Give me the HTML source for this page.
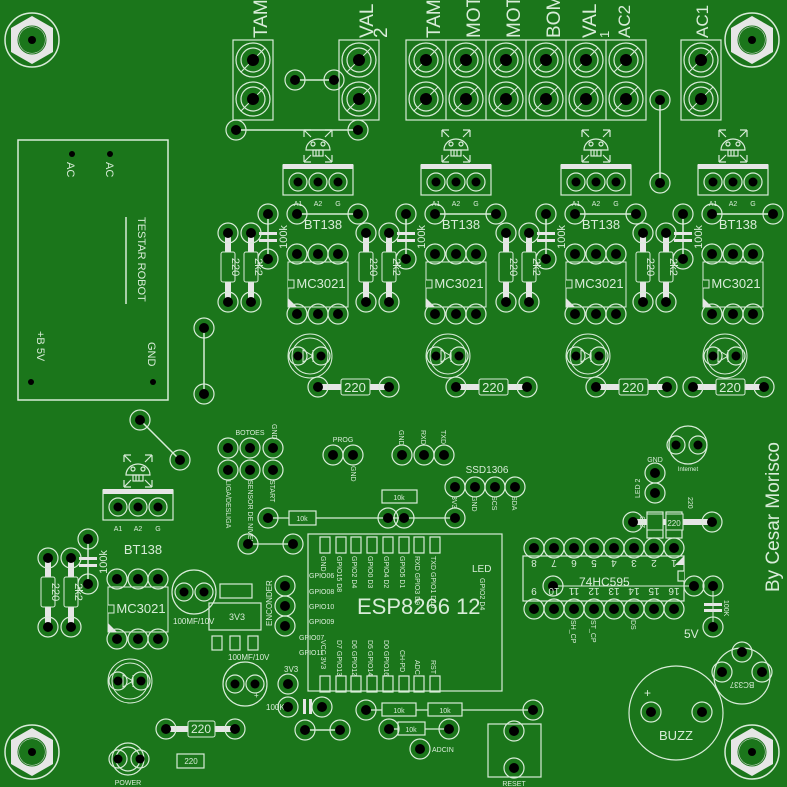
<!DOCTYPE html>
<html><head><meta charset="utf-8"><style>
html,body{margin:0;padding:0;background:#1b761b;}
svg{display:block;font-family:"Liberation Sans",sans-serif;}
</style></head><body>
<svg width="787" height="787" viewBox="0 0 787 787" xmlns="http://www.w3.org/2000/svg">
<rect width="787" height="787" fill="#1b761b"/>
<defs>
<g id="p"><circle r="10" fill="none" stroke="#d8ecd8" stroke-width="1.2"/><circle r="5" fill="#000"/></g>
<g id="ps"><circle r="9" fill="none" stroke="#d8ecd8" stroke-width="1.2"/><circle r="4.5" fill="#000"/></g>
<g id="t"><circle r="17" fill="none" stroke="#d8ecd8" stroke-width="1.2"/><circle r="12" fill="none" stroke="#d8ecd8" stroke-width="1.2"/><line x1="-12" y1="12" x2="12" y2="-12" stroke="#d8ecd8"/><circle r="6" fill="#000"/></g>
<g id="hex"><circle r="27" fill="none" stroke="#d8ecd8" stroke-width="1.5"/><polygon points="0,-24 21,-12 21,12 0,24 -21,12 -21,-12" fill="#e6e6e6"/><circle r="14" fill="none" stroke="#1b761b" stroke-width="1"/><circle r="13" fill="#1b761b"/><circle r="4" fill="#000"/></g>
<g id="skull" stroke="#d8ecd8" fill="none" stroke-width="1.2">
<path d="M-14,-16 h7 M-14,-16 v7 M14,-16 h-7 M14,-16 v7 M-14,16 h7 M-14,16 v-7 M14,16 h-7 M14,16 v-7 M-14,-16 l7,7 M14,-16 l-7,7 M-14,16 l7,-7 M14,16 l-7,-7"/>
<path d="M-12,4 A12,11 0 0 1 12,4 Z"/><circle cx="-5" cy="-2" r="2"/><circle cx="5" cy="-2" r="2"/><rect x="-5" y="4" width="10" height="6"/><path d="M-2,4v6M1,4v6"/>
</g>
<g id="u">
<use href="#skull" x="318" y="146"/>
<rect x="283" y="165" width="70" height="30" fill="none" stroke="#d8ecd8" stroke-width="1.2"/>
<rect x="283" y="164" width="70" height="5" fill="#e6e6e6"/>
<use href="#ps" x="298" y="182"/><use href="#ps" x="318" y="182"/><use href="#ps" x="338" y="182"/>
<text x="298" y="206" font-size="7" fill="#d8ecd8" text-anchor="middle">A1</text><text x="318" y="206" font-size="7" fill="#d8ecd8" text-anchor="middle">A2</text><text x="338" y="206" font-size="7" fill="#d8ecd8" text-anchor="middle">G</text>
<text x="323" y="229" font-size="13" fill="#d8ecd8" text-anchor="middle">BT138</text>
<line x1="268" y1="214" x2="268" y2="259" stroke="#d8ecd8" stroke-width="1.5"/>
<rect x="259" y="232" width="18" height="3" fill="#e6e6e6"/><rect x="259" y="239" width="18" height="3" fill="#e6e6e6"/>
<use href="#p" x="268" y="214"/><use href="#p" x="268" y="259"/>
<text transform="translate(287,237) rotate(-90)" font-size="11" fill="#d8ecd8" text-anchor="middle">100k</text>
<line x1="228" y1="233" x2="228" y2="302" stroke="#e6e6e6" stroke-width="6"/>
<line x1="251" y1="233" x2="251" y2="302" stroke="#e6e6e6" stroke-width="6"/>
<rect x="221" y="252" width="14" height="30" rx="2" fill="#1b761b" stroke="#d8ecd8"/>
<rect x="244" y="252" width="14" height="30" rx="2" fill="#1b761b" stroke="#d8ecd8"/>
<text transform="translate(232,267) rotate(90)" font-size="11" fill="#d8ecd8" text-anchor="middle">220</text>
<text transform="translate(255,267) rotate(90)" font-size="11" fill="#d8ecd8" text-anchor="middle">2k2</text>
<use href="#p" x="228" y="233"/><use href="#p" x="228" y="302"/><use href="#p" x="251" y="233"/><use href="#p" x="251" y="302"/>
<rect x="288" y="262" width="60" height="45" fill="none" stroke="#d8ecd8"/>
<path d="M288,280 h6 v8 h-6" fill="#1b761b" stroke="#d8ecd8"/><path d="M288,298 l9,9 h-9z" fill="#e6e6e6"/>
<text x="321" y="288" font-size="13" fill="#d8ecd8" text-anchor="middle">MC3021</text>
<use href="#p" x="297" y="254"/><use href="#p" x="318" y="254"/><use href="#p" x="338" y="254"/>
<use href="#p" x="297" y="314"/><use href="#p" x="318" y="314"/><use href="#p" x="338" y="314"/>
<circle cx="310" cy="356" r="22" fill="none" stroke="#d8ecd8"/><circle cx="310" cy="356" r="18" fill="none" stroke="#d8ecd8"/>
<path d="M303,350 v12 l10,-6z M313,350 v12" fill="none" stroke="#d8ecd8"/>
<use href="#ps" x="298" y="356"/><use href="#ps" x="321" y="356"/>
</g>
<g id="ux">
<line x1="297" y1="214" x2="358" y2="214" stroke="#d8ecd8" stroke-width="1.5"/>
<use href="#p" x="297" y="214"/><use href="#p" x="358" y="214"/>
</g>
<g id="ur">
<line x1="318" y1="387" x2="389" y2="387" stroke="#e6e6e6" stroke-width="6"/>
<rect x="341" y="379" width="29" height="16" rx="2" fill="#1b761b" stroke="#d8ecd8"/>
<text x="355" y="392" font-size="13" fill="#d8ecd8" text-anchor="middle">220</text>
<use href="#p" x="318" y="387"/><use href="#p" x="389" y="387"/>
</g>
</defs>

<g fill="none" stroke="#d8ecd8" stroke-width="1.2">
<rect x="233" y="40" width="40" height="80"/><rect x="339" y="40" width="40" height="80"/>
<rect x="406" y="40" width="240" height="80"/>
<path d="M446,40v80M486,40v80M526,40v80M566,40v80M606,40v80"/>
<rect x="681" y="40" width="40" height="80"/>
<rect x="18" y="140" width="150" height="260" stroke-width="1.5"/>
<line x1="126" y1="217" x2="126" y2="304" stroke-width="1.5"/>
</g>
<g fill="#d8ecd8" font-size="19">
<text transform="translate(267,38) rotate(-90)">TAM</text>
<text transform="translate(373,38) rotate(-90)">VAL</text>
<text transform="translate(387,38) rotate(-90)">2</text>
<text transform="translate(440,38) rotate(-90)">TAM</text>
<text transform="translate(480,38) rotate(-90)">MOT</text>
<text transform="translate(520,38) rotate(-90)">MOT</text>
<text transform="translate(560,38) rotate(-90)">BOM</text>
<text transform="translate(596,38) rotate(-90)">VAL</text>
<text transform="translate(609,38) rotate(-90)" font-size="13">1</text>
<text transform="translate(630,38) rotate(-90)" font-size="17">AC2</text>
<text transform="translate(708,38) rotate(-90)" font-size="17">AC1</text>
</g>
<use href="#t" x="253" y="60"/><use href="#t" x="253" y="99"/>
<use href="#t" x="359" y="60"/><use href="#t" x="359" y="99"/>
<use href="#t" x="426" y="60"/><use href="#t" x="426" y="99"/>
<use href="#t" x="466" y="60"/><use href="#t" x="466" y="99"/>
<use href="#t" x="506" y="60"/><use href="#t" x="506" y="99"/>
<use href="#t" x="546" y="60"/><use href="#t" x="546" y="99"/>
<use href="#t" x="586" y="60"/><use href="#t" x="586" y="99"/>
<use href="#t" x="626" y="60"/><use href="#t" x="626" y="99"/>
<use href="#t" x="701" y="60"/><use href="#t" x="701" y="99"/>
<g stroke="#d8ecd8" stroke-width="1.5">
<line x1="295" y1="80" x2="334" y2="80"/><line x1="236" y1="130" x2="358" y2="130"/>
<line x1="660" y1="100" x2="660" y2="183"/><line x1="204" y1="328" x2="204" y2="394"/>
<line x1="140" y1="420" x2="180" y2="460"/>
</g>
<use href="#p" x="295" y="80"/><use href="#p" x="334" y="80"/>
<use href="#p" x="236" y="130"/><use href="#p" x="358" y="130"/>
<use href="#p" x="660" y="100"/><use href="#p" x="660" y="183"/>
<use href="#p" x="204" y="328"/><use href="#p" x="204" y="394"/>
<use href="#p" x="140" y="420"/><use href="#p" x="180" y="460"/>

<use href="#u"/><use href="#ux"/><use href="#ur"/>
<use href="#u" x="138"/><use href="#ux" x="138"/><use href="#ur" x="138"/>
<use href="#u" x="278"/><use href="#ux" x="278"/><use href="#ur" x="278"/>
<use href="#u" x="415"/><use href="#ux" x="415"/><use href="#ur" x="375"/>
<use href="#u" x="-180" y="325"/>

<g fill="#000"><circle cx="72" cy="154" r="3"/><circle cx="110" cy="154" r="3"/><circle cx="31" cy="382" r="3"/><circle cx="153" cy="382" r="3"/></g>
<g fill="#d8ecd8" font-size="11">
<text transform="translate(67,162) rotate(90)">AC</text>
<text transform="translate(106,162) rotate(90)">AC</text>
<text transform="translate(138,217) rotate(90)">TESTAR ROBOT</text>
<text transform="translate(148,342) rotate(90)">GND</text>
<text transform="translate(37,331) rotate(90)">+B 5V</text>
</g>
<use href="#hex" x="32" y="40"/><use href="#hex" x="752" y="40"/><use href="#hex" x="32" y="752"/><use href="#hex" x="752" y="752"/>

<g fill="none" stroke="#d8ecd8" stroke-width="1.2">
<circle cx="194" cy="592" r="22"/><rect x="220" y="584" width="32" height="14"/><rect x="209" y="603" width="52" height="27"/>
<rect x="212" y="636" width="10" height="14"/><rect x="230" y="636" width="10" height="14"/><rect x="248" y="636" width="10" height="14"/>
<circle cx="245" cy="684" r="22"/><rect x="177" y="754" width="27" height="14"/>
<circle cx="128" cy="759" r="16"/><circle cx="128" cy="759" r="12"/>
</g>
<use href="#ps" x="184" y="592"/><use href="#ps" x="204" y="592"/>
<use href="#ps" x="235" y="684"/><use href="#ps" x="255" y="684"/>
<use href="#ps" x="118" y="759"/><use href="#ps" x="140" y="759"/>
<line x1="166" y1="729" x2="235" y2="729" stroke="#e6e6e6" stroke-width="6"/>
<rect x="188" y="721" width="27" height="16" rx="2" fill="#1b761b" stroke="#d8ecd8"/>
<use href="#p" x="166" y="729"/><use href="#p" x="235" y="729"/>
<g fill="#d8ecd8" font-size="8">
<text x="173" y="624">100MF/10V</text><text x="229" y="620" font-size="9">3V3</text><text x="228" y="660">100MF/10V</text>
<text x="254" y="698">+</text><text x="201" y="733" font-size="12" text-anchor="middle">220</text><text x="191" y="764" text-anchor="middle">220</text>
<text x="128" y="785" text-anchor="middle" font-size="7">POWER</text>
<text transform="translate(272,626) rotate(-90)">ENCONDER</text>
<text x="284" y="672">3V3</text><text x="266" y="710">100K</text>
</g>
<use href="#p" x="285" y="586"/><use href="#p" x="285" y="606"/><use href="#p" x="285" y="626"/>
<use href="#p" x="288" y="684"/>
<rect x="303" y="699" width="3" height="15" fill="#e6e6e6"/><rect x="309" y="699" width="3" height="15" fill="#e6e6e6"/>
<use href="#p" x="288" y="707"/><use href="#p" x="322" y="707"/>
<line x1="305" y1="730" x2="340" y2="730" stroke="#d8ecd8" stroke-width="1.5"/>
<use href="#p" x="305" y="730"/><use href="#p" x="340" y="730"/>

<g fill="#d8ecd8" font-size="7">
<text x="250" y="435" text-anchor="middle">BOTOES</text>
<text transform="translate(272,424) rotate(90)">GND</text>
<text transform="translate(226,480) rotate(90)">LIGA/DESLIGA</text>
<text transform="translate(248,480) rotate(90)">SENSOR DE NIVEL</text>
<text transform="translate(270,480) rotate(90)">START</text>
<text x="343" y="442" text-anchor="middle">PROG</text>
<text transform="translate(351,466) rotate(90)">GND</text>
<text transform="translate(399,430) rotate(90)">GND</text>
<text transform="translate(421,430) rotate(90)">RXD</text>
<text transform="translate(441,430) rotate(90)">TXD</text>
<text x="487" y="473" text-anchor="middle" font-size="10">SSD1306</text>
<text transform="translate(452,496) rotate(90)">3V3</text>
<text transform="translate(472,496) rotate(90)">GND</text>
<text transform="translate(492,496) rotate(90)">SCS</text>
<text transform="translate(512,496) rotate(90)">SDA</text>
</g>
<use href="#p" x="228" y="448"/><use href="#p" x="250" y="448"/><use href="#p" x="273" y="448"/>
<use href="#p" x="228" y="470"/><use href="#p" x="250" y="470"/><use href="#p" x="273" y="470"/>
<use href="#p" x="333" y="455"/><use href="#p" x="353" y="455"/>
<use href="#p" x="402" y="455"/><use href="#p" x="424" y="455"/><use href="#p" x="444" y="455"/>
<use href="#p" x="455" y="487"/><use href="#p" x="475" y="487"/><use href="#p" x="495" y="487"/><use href="#p" x="515" y="487"/>
<g stroke="#d8ecd8" stroke-width="1.2" fill="none">
<line x1="268" y1="518" x2="455" y2="518"/><line x1="248" y1="544" x2="293" y2="544"/>
<rect x="382" y="490" width="35" height="13"/>
<rect x="289" y="511" width="27" height="14" fill="#1b761b"/>
<rect x="308" y="534" width="194" height="157"/>
<path d="M320,537h10v16h-10zM336,537h10v16h-10zM351,537h10v16h-10zM367,537h10v16h-10zM383,537h10v16h-10zM399,537h10v16h-10zM414,537h10v16h-10zM430,537h10v16h-10z"/>
<path d="M320,676h10v16h-10zM336,676h10v16h-10zM351,676h10v16h-10zM367,676h10v16h-10zM383,676h10v16h-10zM399,676h10v16h-10zM414,676h10v16h-10zM430,676h10v16h-10z"/>
<line x1="366" y1="710" x2="533" y2="710"/><line x1="389" y1="729" x2="449" y2="729"/>
<rect x="382" y="703" width="34" height="13" fill="#1b761b"/><rect x="428" y="703" width="34" height="13" fill="#1b761b"/>
<rect x="398" y="722" width="27" height="13" fill="#1b761b"/>
<rect x="488" y="724" width="53" height="53"/>
</g>
<use href="#p" x="268" y="518"/><use href="#p" x="388" y="518"/><use href="#p" x="404" y="518"/><use href="#p" x="455" y="518"/>
<use href="#p" x="248" y="544"/><use href="#p" x="293" y="544"/>
<use href="#p" x="366" y="710"/><use href="#p" x="533" y="710"/>
<use href="#p" x="389" y="729"/><use href="#p" x="449" y="729"/><use href="#p" x="420" y="749"/>
<use href="#p" x="514" y="731"/><use href="#p" x="514" y="768"/>
<g fill="#d8ecd8" font-size="7">
<text x="399" y="500" text-anchor="middle">10k</text><text x="302" y="521" text-anchor="middle">10k</text>
<text x="399" y="713" text-anchor="middle">10k</text><text x="445" y="713" text-anchor="middle">10k</text><text x="411" y="732" text-anchor="middle">10k</text>
<text x="432" y="752">ADCIN</text><text x="514" y="786" text-anchor="middle">RESET</text>
<text x="357" y="614" font-size="22">ESP8266 12</text>
<text x="472" y="572" font-size="10">LED</text>
<text transform="translate(480,578) rotate(90)">GPIO2 D4</text>
<text transform="translate(321,556) rotate(90)">GND</text>
<text transform="translate(337,556) rotate(90)">GPIO15 D8</text>
<text transform="translate(352,556) rotate(90)">GPIO2 D4</text>
<text transform="translate(368,556) rotate(90)">GPIO0 D3</text>
<text transform="translate(384,556) rotate(90)">GPIO4 D2</text>
<text transform="translate(400,556) rotate(90)">GPIO5 D1</text>
<text transform="translate(415,556) rotate(90)">RXD GPIO3 D9</text>
<text transform="translate(431,556) rotate(90)">TXD GPIO1 D10</text>
<text transform="translate(321,640) rotate(90)">VCC 3V3</text>
<text transform="translate(337,640) rotate(90)">D7 GPIO13</text>
<text transform="translate(352,640) rotate(90)">D6 GPIO12</text>
<text transform="translate(368,640) rotate(90)">D5 GPIO14</text>
<text transform="translate(384,640) rotate(90)">D0 GPIO16</text>
<text transform="translate(400,650) rotate(90)">CH-PD</text>
<text transform="translate(415,660) rotate(90)">ADC</text>
<text transform="translate(431,660) rotate(90)">RST</text>
<text x="309" y="578">GPIO06</text><text x="309" y="594">GPIO08</text><text x="309" y="609">GPIO10</text><text x="309" y="624">GPIO09</text>
<text x="299" y="640">GPIO07</text><text x="299" y="655">GPIO11</text>
</g>

<g fill="none" stroke="#d8ecd8" stroke-width="1.2">
<rect x="523" y="556" width="161" height="45"/>
<path d="M684,571 h-6 v10 h6" fill="#1b761b"/>
<circle cx="688" cy="445" r="19"/><circle cx="742" cy="676" r="28"/><circle cx="676" cy="713" r="47"/>
<rect x="647" y="512" width="16" height="26"/><rect x="666" y="512" width="16" height="26"/>
</g>
<path d="M684,556 v9 h-9z" fill="#e6e6e6"/>
<line x1="553" y1="586" x2="694" y2="586" stroke="#d8ecd8"/>
<line x1="633" y1="522" x2="712" y2="522" stroke="#e6e6e6" stroke-width="6"/>
<rect x="647" y="514" width="16" height="16" fill="#1b761b" stroke="#d8ecd8"/><rect x="666" y="514" width="17" height="16" fill="#1b761b" stroke="#d8ecd8"/>
<use href="#p" x="633" y="522"/><use href="#p" x="712" y="522"/>
<rect x="704" y="603" width="18" height="3" fill="#e6e6e6"/><rect x="704" y="609" width="18" height="3" fill="#e6e6e6"/>
<line x1="713" y1="586" x2="713" y2="627" stroke="#d8ecd8"/>
<use href="#p" x="713" y="586"/><use href="#p" x="713" y="627"/><use href="#p" x="694" y="586"/>
<use href="#p" x="534" y="548"/><use href="#p" x="554" y="548"/><use href="#p" x="574" y="548"/><use href="#p" x="594" y="548"/><use href="#p" x="614" y="548"/><use href="#p" x="634" y="548"/><use href="#p" x="654" y="548"/><use href="#p" x="674" y="548"/>
<use href="#p" x="534" y="609"/><use href="#p" x="554" y="609"/><use href="#p" x="574" y="609"/><use href="#p" x="594" y="609"/><use href="#p" x="614" y="609"/><use href="#p" x="634" y="609"/><use href="#p" x="654" y="609"/><use href="#p" x="674" y="609"/>
<use href="#p" x="553" y="586"/>
<use href="#p" x="655" y="473"/><use href="#p" x="655" y="493"/>
<use href="#ps" x="676" y="445"/><use href="#ps" x="698" y="445"/>
<use href="#p" x="742" y="652"/><use href="#p" x="722" y="672"/><use href="#p" x="762" y="672"/>
<use href="#p" x="651" y="712"/><use href="#p" x="702" y="712"/>
<g fill="#d8ecd8" font-size="10">
<text x="579" y="586" font-size="12">74HC595</text>
<text x="534" y="568" text-anchor="middle" transform="rotate(180,534,564)">8</text>
<text x="554" y="568" text-anchor="middle" transform="rotate(180,554,564)">7</text>
<text x="574" y="568" text-anchor="middle" transform="rotate(180,574,564)">6</text>
<text x="594" y="568" text-anchor="middle" transform="rotate(180,594,564)">5</text>
<text x="614" y="568" text-anchor="middle" transform="rotate(180,614,564)">4</text>
<text x="634" y="568" text-anchor="middle" transform="rotate(180,634,564)">3</text>
<text x="654" y="568" text-anchor="middle" transform="rotate(180,654,564)">2</text>
<text x="674" y="568" text-anchor="middle" transform="rotate(180,674,564)">1</text>
<text x="534" y="596" text-anchor="middle" transform="rotate(180,534,592)">9</text>
<text x="554" y="596" text-anchor="middle" transform="rotate(180,554,592)">10</text>
<text x="574" y="596" text-anchor="middle" transform="rotate(180,574,592)">11</text>
<text x="594" y="596" text-anchor="middle" transform="rotate(180,594,592)">12</text>
<text x="614" y="596" text-anchor="middle" transform="rotate(180,614,592)">13</text>
<text x="634" y="596" text-anchor="middle" transform="rotate(180,634,592)">14</text>
<text x="654" y="596" text-anchor="middle" transform="rotate(180,654,592)">15</text>
<text x="674" y="596" text-anchor="middle" transform="rotate(180,674,592)">16</text>
<text transform="translate(571,620) rotate(90)" font-size="7">SH_CP</text>
<text transform="translate(591,620) rotate(90)" font-size="7">ST_CP</text>
<text transform="translate(631,620) rotate(90)" font-size="7">DS</text>
<text x="684" y="638" font-size="12">5V</text>
<text transform="translate(724,600) rotate(90)" font-size="7">100K</text>
<text x="655" y="462" text-anchor="middle" font-size="7">GND</text>
<text transform="translate(640,498) rotate(-90)" font-size="7">LED 2</text>
<text transform="translate(645,528) rotate(-90)" font-size="7">220</text>
<text transform="translate(688,497) rotate(90)" font-size="7">220</text>
<text x="674" y="526" font-size="8" text-anchor="middle">220</text>
<text x="688" y="471" text-anchor="middle" font-size="6">Internet</text>
<text transform="translate(742,682) rotate(180)" text-anchor="middle" font-size="8">BC337</text>
<text x="644" y="697" font-size="12">+</text>
<text x="676" y="740" text-anchor="middle" font-size="13">BUZZ</text>
<text transform="translate(779,592) rotate(-90)" font-size="19">By Cesar Morisco</text>
</g>
</svg>
</body></html>
